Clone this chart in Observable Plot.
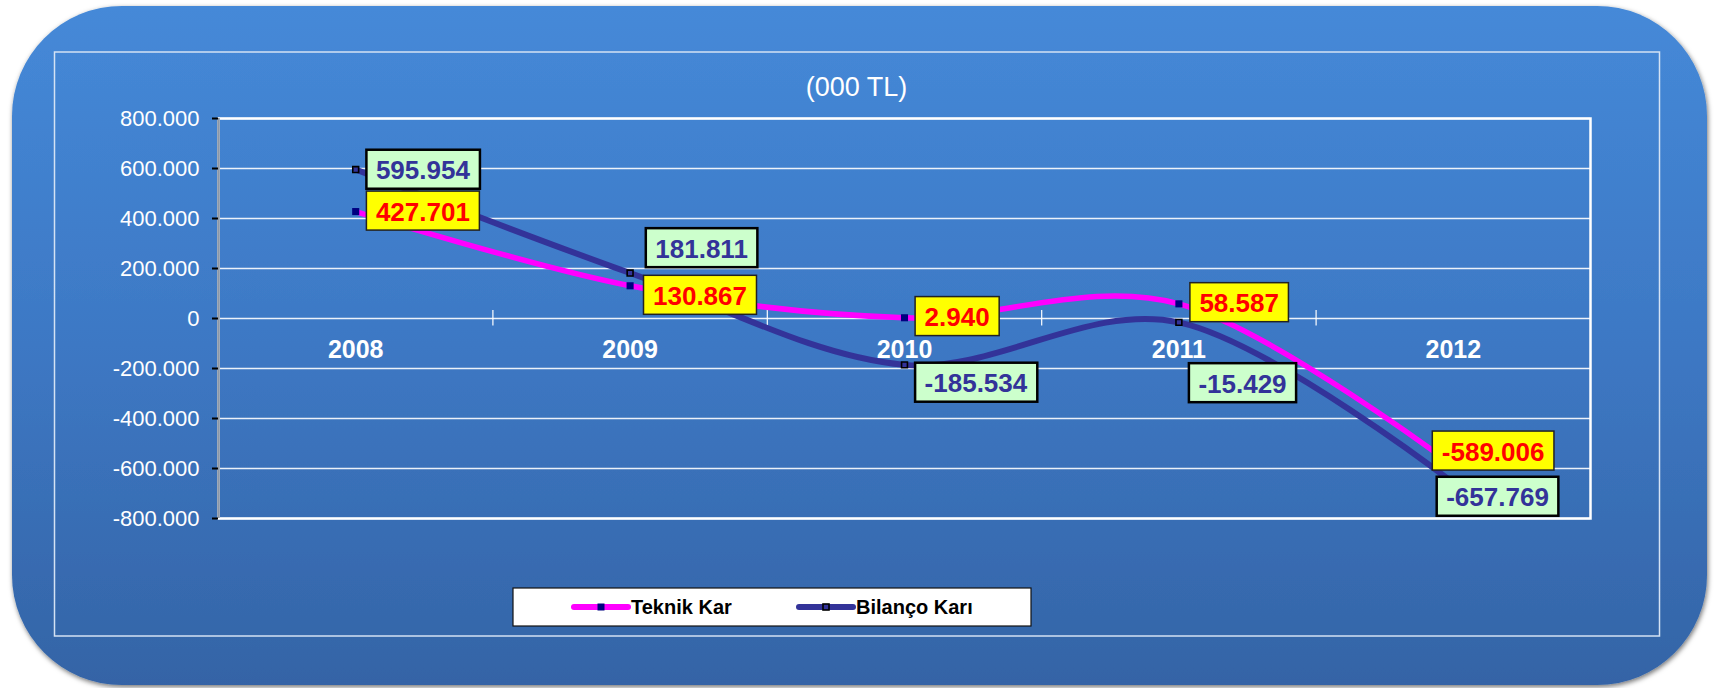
<!DOCTYPE html>
<html><head><meta charset="utf-8">
<script src="https://cdn.jsdelivr.net/npm/d3@7"></script>
<script src="https://cdn.jsdelivr.net/npm/@observablehq/plot@0.6"></script>
<style>html,body{margin:0;padding:0;background:#fff;} svg{display:block}</style>
</head><body><div id="chart"></div>
<script>
// ---- data ----
const years = ["2008","2009","2010","2011","2012"];
const teknikKar = [427701, 130867, 2940, 58587, -589006];
const bilancoKari = [595954, 181811, -185534, -15429, -657769];
const yTicks = [800000, 600000, 400000, 200000, 0, -200000, -400000, -600000, -800000];
const seriesNames = ["Teknik Kar", "Bilanço Karı"];
const unitTitle = "(000 TL)";

// ---- label layout (pixel offsets of each value box from its point) ----
const teknikLabelDx = [10.7, 13.4, 10.6, 11, -21];
const teknikLabelDy = [0.7, 10.7, 0, 0, -13.5];
const bilancoLabelDx = [10.7, 15.7, 10.6, 10, -16.6];
const bilancoLabelDy = [1.4, -23.7, 19, 62, 15];

const loc = d3.formatLocale({decimal: ",", thousands: ".", grouping: [3], currency: ["", ""], minus: "-"});
const fmt = loc.format(",d");

const idx = years.map((d, i) => i);
const FONT = "'Liberation Sans', Arial, sans-serif";
const PINK = "#ff00ff", NAVY = "#333399", RED = "#ff0000";

const labelMarks = [];
const PADX = 9.5;
idx.forEach(i => {
  labelMarks.push(Plot.text([i], {x: d => d, y: d => teknikKar[d], text: d => fmt(teknikKar[d]),
    textAnchor: "start", lineAnchor: "middle", dx: teknikLabelDx[i] + PADX, dy: teknikLabelDy[i],
    fill: RED, fontSize: 26, fontWeight: "bold"}));
  labelMarks.push(Plot.text([i], {x: d => d, y: d => bilancoKari[d], text: d => fmt(bilancoKari[d]),
    textAnchor: "start", lineAnchor: "middle", dx: bilancoLabelDx[i] + PADX, dy: bilancoLabelDy[i],
    fill: NAVY, fontSize: 26, fontWeight: "bold"}));
});

const chart = Plot.plot({
  width: 1714, height: 688,
  marginLeft: 218, marginRight: 124, marginTop: 118, marginBottom: 170,
  style: {fontFamily: FONT, background: "transparent", overflow: "visible"},
  x: {domain: [-0.5, 4.5], axis: null},
  y: {domain: [-800000, 800000]},
  marks: [
    Plot.ruleY(yTicks, {stroke: "white", strokeWidth: 1.5, strokeOpacity: 0.9}),
    Plot.frame({stroke: "white", strokeWidth: 2.5}),
    Plot.ruleX([-0.5], {stroke: "#8c98a8", strokeWidth: 2.5}),
    Plot.axisY({ticks: yTicks, tickFormat: d => fmt(d), tickSize: 6, tickPadding: 13,
      stroke: "black", strokeWidth: 2, fill: "white", fontSize: 22}),
    Plot.ruleX([0.5, 1.5, 2.5, 3.5], {y1: -30000, y2: 32000, stroke: "white", strokeWidth: 1.2}),
    Plot.text(idx, {x: d => d, y: 0, dy: 31.5, text: d => years[d], fill: "white",
      fontSize: 25, fontWeight: "bold"}),
    Plot.text([unitTitle], {frameAnchor: "top", dx: -48, dy: -31, lineAnchor: "middle",
      fill: "white", fontSize: 27}),
    Plot.line(idx, {x: d => d, y: d => teknikKar[d], stroke: PINK, strokeWidth: 5.5,
      curve: "cardinal", strokeLinecap: "round"}),
    Plot.line(idx, {x: d => d, y: d => bilancoKari[d], stroke: NAVY, strokeWidth: 6,
      curve: "cardinal", strokeLinecap: "round"}),
    Plot.dot(idx, {x: d => d, y: d => teknikKar[d], symbol: "square", r: 4, fill: "#000080"}),
    Plot.dot(idx, {x: d => d, y: d => bilancoKari[d], symbol: "square", r: 3.3, fill: "none",
      stroke: "black", strokeWidth: 1.6}),
    ...labelMarks
  ]
});

document.getElementById("chart").appendChild(chart);
const svg = d3.select(chart);

// background panel
const defs = svg.insert("defs", ":first-child");
const grad = defs.append("linearGradient").attr("id", "bg").attr("x1", 0).attr("y1", 0).attr("x2", 0).attr("y2", 1);
grad.append("stop").attr("offset", "0%").attr("stop-color", "#4589d8");
grad.append("stop").attr("offset", "50%").attr("stop-color", "#3d78c4");
grad.append("stop").attr("offset", "100%").attr("stop-color", "#3464a6");
const flt = defs.append("filter").attr("id", "sh").attr("x", "-5%").attr("y", "-5%").attr("width", "110%").attr("height", "115%");
flt.append("feDropShadow").attr("dx", 1).attr("dy", 2).attr("stdDeviation", 2.5)
  .attr("flood-color", "#000").attr("flood-opacity", 0.55);
const bgG = svg.insert("g", "defs + *");
bgG.append("rect").attr("x", 12).attr("y", 6).attr("width", 1695).attr("height", 679)
  .attr("rx", 110).attr("ry", 110).attr("fill", "url(#bg)").attr("filter", "url(#sh)");
bgG.append("rect").attr("x", 54.5).attr("y", 52).attr("width", 1605).attr("height", 584)
  .attr("fill", "none").attr("stroke", "#d4e2f4").attr("stroke-width", 1.5);

// value boxes behind label texts
svg.selectAll("g").filter(function() {
  const f = (this.getAttribute("fill") || "").toLowerCase();
  return (f === RED || f === NAVY) && this.querySelector("text");
}).each(function() {
  const g = this;
  const isB = g.getAttribute("fill").toLowerCase() === NAVY;
  g.querySelectorAll("text").forEach(t => {
    const bb = t.getBBox();
    const cy = bb.y + bb.height / 2 - 1;
    const r = document.createElementNS("http://www.w3.org/2000/svg", "rect");
    r.setAttribute("x", bb.x - PADX);
    r.setAttribute("y", cy - 19.5);
    r.setAttribute("width", bb.width + 2 * PADX);
    r.setAttribute("height", 39);
    r.setAttribute("fill", isB ? "#ccffcc" : "#ffff00");
    r.setAttribute("stroke", isB ? "#000" : "#222");
    r.setAttribute("stroke-width", isB ? 2.5 : 1.5);
    if (t.getAttribute("transform")) r.setAttribute("transform", t.getAttribute("transform"));
    g.insertBefore(r, t);
  });
});

// legend
const lg = svg.append("g").attr("font-family", FONT).attr("text-anchor", "start");
lg.append("rect").attr("x", 513).attr("y", 588).attr("width", 518).attr("height", 38)
  .attr("fill", "white").attr("stroke", "#111").attr("stroke-width", 1.2);
const ly = 607;
const items = [
  {name: seriesNames[0], color: PINK, x0: 574, x1: 628, filled: true},
  {name: seriesNames[1], color: NAVY, x0: 799, x1: 853, filled: false}
];
items.forEach(it => {
  lg.append("line").attr("x1", it.x0).attr("x2", it.x1).attr("y1", ly).attr("y2", ly)
    .attr("stroke", it.color).attr("stroke-width", 6).attr("stroke-linecap", "round");
  const mx = (it.x0 + it.x1) / 2;
  if (it.filled) lg.append("rect").attr("x", mx - 3.5).attr("y", ly - 3.5).attr("width", 7).attr("height", 7).attr("fill", "#000080");
  else lg.append("rect").attr("x", mx - 3).attr("y", ly - 3).attr("width", 6).attr("height", 6).attr("fill", "none").attr("stroke", "#000").attr("stroke-width", 1.6);
  lg.append("text").attr("x", it.x1 + 3).attr("y", ly).attr("dy", "0.35em")
    .attr("font-size", 20).attr("font-weight", "bold").attr("fill", "#000").text(it.name);
});
</script>
</body></html>
